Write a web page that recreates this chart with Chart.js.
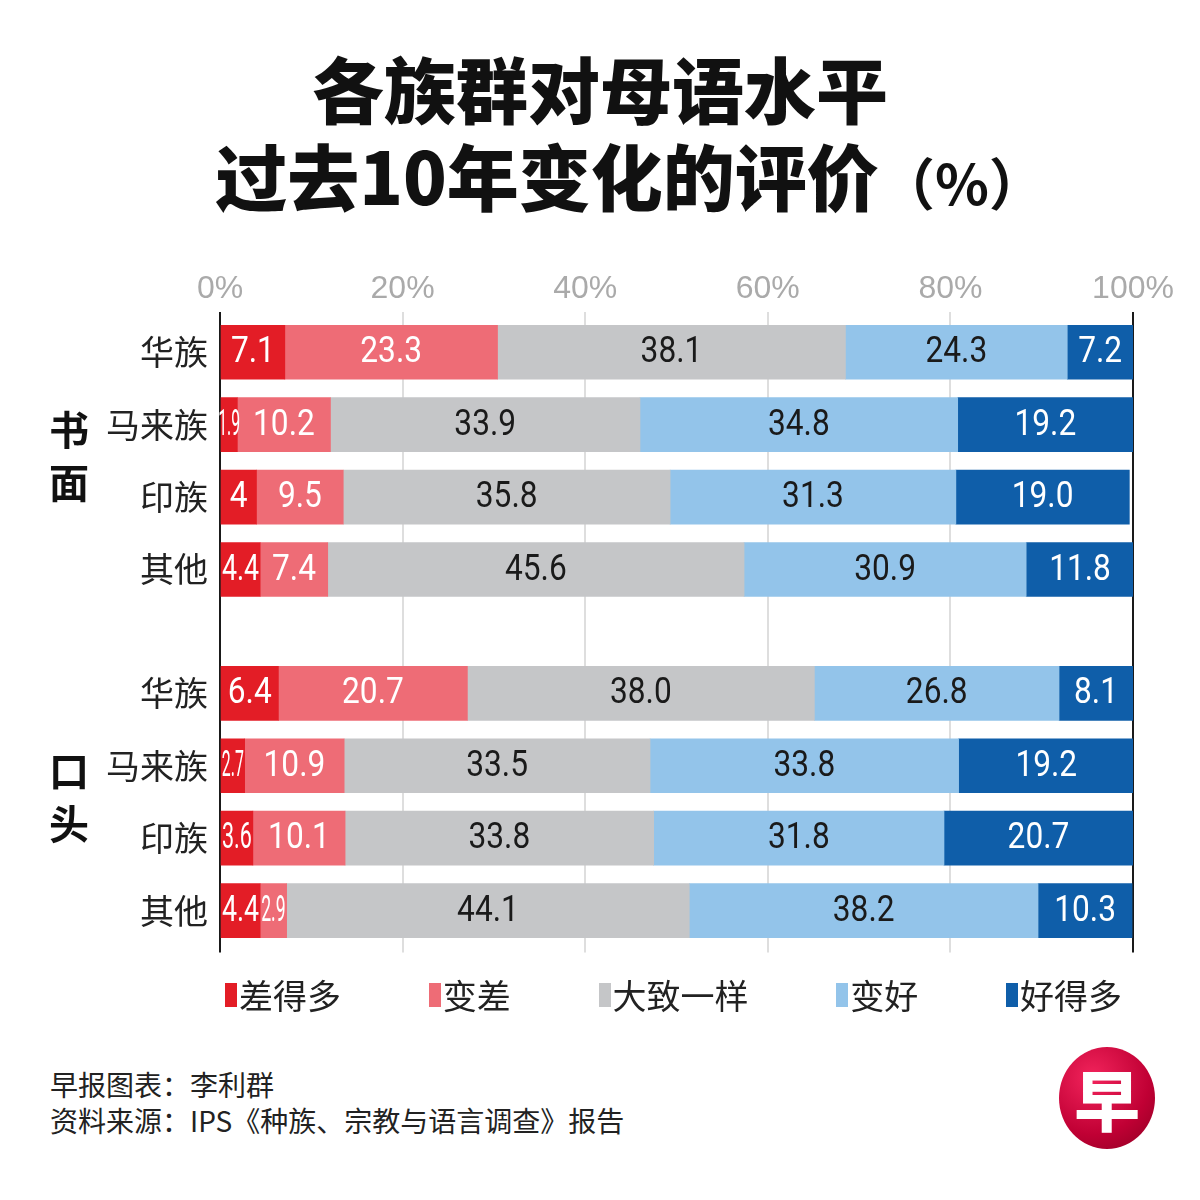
<!DOCTYPE html>
<html>
<head>
<meta charset="utf-8">
<script src="https://cdn.jsdelivr.net/npm/chart.js@4.4.1/dist/chart.umd.min.js"></script>
<style>
  html, body { margin: 0; padding: 0; background: #fff; }
  body { width: 1200px; height: 1200px; position: relative; overflow: hidden; font-family: "Noto Sans CJK SC", sans-serif; color: #111; }
  .title { position: absolute; left: 0; width: 1200px; text-align: center; font-weight: 900; font-size: 72px; line-height: 86px; }
  .title small { font-size: 56px; font-weight: 700; }
  #wrap { position: absolute; left: 0; top: 250px; width: 1200px; height: 735px; }
  #legend { position: absolute; left: 225px; width: 897px; top: 975px; display: flex; justify-content: space-between; font-size: 34px; line-height: 40px; color: #222; }
  #legend span.item { display: flex; align-items: center; }
  #legend i { display: inline-block; width: 12px; height: 24px; margin-right: 2px; }
  .foot { position: absolute; left: 50px; font-size: 28px; line-height: 36px; color: #222; }
  .logo { position: absolute; left: 1059px; top: 1047px; width: 96px; height: 102px; border-radius: 50%;
    background: radial-gradient(circle at 35% 30%, #f2245c, #c00034 60%, #8c0022);
    color: #fff; font-size: 66px; font-weight: 900; text-align: center; line-height: 100px; }
</style>
</head>
<body>
<div class="title" style="top:44px">各族群对母语水平</div>
<div class="title" style="top:131px; padding-left:30px">过去10年变化的评价<small>（%）</small></div>
<div id="wrap"><canvas id="chartCanvas"></canvas></div>
<div id="legend"></div>
<div class="foot" style="top:1066px">早报图表：李利群</div>
<div class="foot" style="top:1102px">资料来源：IPS《种族、宗教与语言调查》报告</div>
<div class="logo">早</div>
<script>
// rows, top to bottom (书面 then 口头)
const rowNames = ['华族', '马来族', '印族', '其他', '华族', '马来族', '印族', '其他'];
const groupNames = ['书面', '口头'];
const seriesNames = ['差得多', '变差', '大致一样', '变好', '好得多'];
const xTicks = [0, 20, 40, 60, 80, 100];

// values as printed on the bars
const muchWorse = ['7.1', '1.9', '4', '4.4', '6.4', '2.7', '3.6', '4.4'];
const worse     = ['23.3', '10.2', '9.5', '7.4', '20.7', '10.9', '10.1', '2.9'];
const same      = ['38.1', '33.9', '35.8', '45.6', '38.0', '33.5', '33.8', '44.1'];
const better    = ['24.3', '34.8', '31.3', '30.9', '26.8', '33.8', '31.8', '38.2'];
const muchBetter = ['7.2', '19.2', '19.0', '11.8', '8.1', '19.2', '20.7', '10.3'];

// layout: row slots on the y axis, with a gap between the two groups
const rowPos = [0, 1, 2, 3, 4.71, 5.71, 6.71, 7.71];
const groupCenters = [1.5, 6.21];

const colors = ['#e31d26', '#ee6c76', '#c5c6c8', '#93c4ea', '#0f5ea9'];
const textColors = ['#fff', '#fff', '#1a1a1a', '#1a1a1a', '#fff'];
const allSeries = [muchWorse, worse, same, better, muchBetter];

const datasets = allSeries.map((vals, s) => ({
  label: seriesNames[s],
  data: vals.map((v, i) => ({ x: Number(v), y: rowPos[i], txt: v })),
  backgroundColor: colors[s],
  borderWidth: 0,
  barThickness: 54
}));

// html legend
const legend = document.getElementById('legend');
seriesNames.forEach((n, i) => {
  const el = document.createElement('span');
  el.className = 'item';
  el.innerHTML = `<i style="background:${colors[i]}"></i>${n}`;
  legend.appendChild(el);
});

const barLabels = {
  id: 'barLabels',
  afterDatasetsDraw(chart) {
    const ctx = chart.ctx;
    ctx.save();
    ctx.font = '36px Roboto, "Liberation Sans", sans-serif';
    ctx.textAlign = 'center';
    ctx.textBaseline = 'middle';
    chart.data.datasets.forEach((ds, s) => {
      const meta = chart.getDatasetMeta(s);
      meta.data.forEach((bar, i) => {
        const txt = ds.data[i].txt;
        const w = Math.abs(bar.x - bar.base);
        const cx = (bar.x + bar.base) / 2;
        const natural = ctx.measureText(txt).width;
        const maxW = Math.max(w - 2, 22);
        const k = Math.min(natural > maxW ? maxW / natural : 1, 0.88);
        ctx.fillStyle = textColors[s];
        ctx.save();
        ctx.translate(cx, bar.y + 1);
        ctx.scale(k, 1);
        ctx.fillText(txt, 0, 0);
        ctx.restore();
      });
    });
    ctx.restore();
  }
};

const groupLabels = {
  id: 'groupLabels',
  afterDraw(chart) {
    const ctx = chart.ctx;
    const y = chart.scales.y;
    ctx.save();
    ctx.font = 'bold 40px "Noto Sans CJK SC"';
    ctx.fillStyle = '#111';
    ctx.textAlign = 'center';
    ctx.textBaseline = 'middle';
    groupNames.forEach((g, i) => {
      const c = y.getPixelForValue(groupCenters[i]);
      ctx.fillText(g[0], 69, c - 31);
      ctx.fillText(g[1], 69, c + 22);
    });
    ctx.restore();
  }
};

const ctx = document.getElementById('chartCanvas').getContext('2d');
const chart = new Chart(ctx, {
  type: 'bar',
  data: { datasets: datasets },
  plugins: [barLabels, groupLabels],
  options: {
    indexAxis: 'y',
    responsive: true,
    maintainAspectRatio: false,
    animation: false,
    layout: { padding: { left: 0, right: 67, top: 0, bottom: 0 } },
    scales: {
      x: {
        position: 'top',
        stacked: true,
        min: 0,
        max: 100,
        afterBuildTicks(scale) { scale.ticks = xTicks.map(v => ({ value: v })); },
        afterFit(scale) { scale.height = 62; },
        border: { display: false },
        grid: {
          drawTicks: false,
          color: c => (c.tick && (c.tick.value === 0 || c.tick.value === 100)) ? '#1a1a1a' : '#dedede',
          lineWidth: 2
        },
        ticks: {
          color: '#aaaaaa',
          padding: 4,
          font: { family: '"Liberation Sans", Arial, sans-serif', size: 32 },
          callback: v => v + '%'
        }
      },
      y: {
        type: 'linear',
        stacked: true,
        reverse: true,
        offset: false,
        min: -0.556,
        max: 8.29,
        afterBuildTicks(scale) { scale.ticks = rowPos.map(v => ({ value: v })); },
        afterFit(scale) { scale.width = 220; },
        border: { display: false },
        grid: { display: false, drawTicks: false },
        ticks: {
          color: '#222',
          padding: 12,
          autoSkip: false,
          font: { family: '"Noto Sans CJK SC"', size: 34 },
          callback: (v, i) => rowNames[i]
        }
      }
    },
    plugins: {
      legend: { display: false },
      tooltip: { enabled: false }
    }
  }
});
</script>
</body>
</html>
